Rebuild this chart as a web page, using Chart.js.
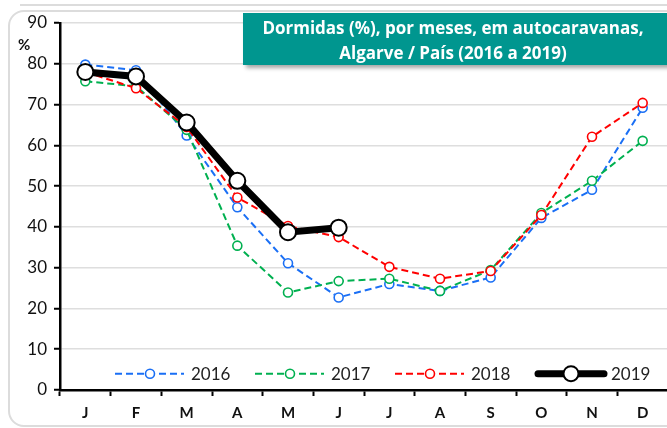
<!DOCTYPE html>
<html>
<head>
<meta charset="utf-8">
<script src="https://cdn.jsdelivr.net/npm/chart.js@4.4.1/dist/chart.umd.min.js"></script>
<style>
  html, body { margin: 0; padding: 0; background: #fff; overflow: hidden; }
  #wrap { position: relative; width: 667px; height: 428px; overflow: hidden; }
  #topline { position: absolute; left: 20px; top: 0; width: 700px; height: 4px; border-bottom: 2px solid #dcdcdc; }
  #frame { position: absolute; left: 8px; top: 10px; width: 700px; height: 413px;
           border: 2px solid #dcdcdc; border-radius: 16px; }
  #chart { position: absolute; left: 0; top: 0; }
  #title { position: absolute; left: 243px; top: 13px; width: 432px; height: 52px;
           background: #00968f; color: #fff; box-shadow: 3px 3px 4px rgba(0,0,0,0.35);
           font: bold 17px "Open Sans", Lato, sans-serif; text-align: center; line-height: 25px;
           padding-top: 2px; box-sizing: border-box; padding-right: 12px; white-space: nowrap; }
  #pct { position: absolute; left: 18px; top: 35px; font: bold 15px Lato, sans-serif; color: #111; }
</style>
</head>
<body>
<div id="wrap">
  <div id="topline"></div>
  <div id="frame"></div>
  <canvas id="chart" width="678" height="428"></canvas>
  <div id="title">Dormidas (%), por meses, em autocaravanas,<br>Algarve / País (2016 a 2019)</div>
  <div id="pct">%</div>
</div>
<script>
// months (PT initials)
const months = ['J', 'F', 'M', 'A', 'M', 'J', 'J', 'A', 'S', 'O', 'N', 'D'];
const yTicks = [0, 10, 20, 30, 40, 50, 60, 70, 80, 90];

// values
const y2016 = [79.8, 78.4, 62.4, 44.8, 31.1, 22.7, 26.0, 24.3, 27.6, 42.2, 49.1, 69.2];
const y2017 = [75.7, 74.5, 63.8, 35.4, 23.9, 26.7, 27.3, 24.3, 29.4, 43.4, 51.3, 61.1];
const y2018 = [78.0, 74.0, 64.5, 47.2, 40.2, 37.5, 30.2, 27.3, 29.2, 42.9, 62.1, 70.4];
const y2019 = [78.0, 76.9, 65.6, 51.3, 38.7, 39.8];

const BLUE = '#1a6ff5';
const GREEN = '#00b050';
const RED = '#ff0000';

function dashed(label, data, color, order) {
  return {
    label: label,
    data: data,
    borderColor: color,
    borderWidth: 2,
    borderDash: [7, 4],
    pointRadius: 4.5,
    pointBorderWidth: 1.6,
    pointBackgroundColor: '#fff',
    pointBorderColor: color,
    tension: 0,
    order: order
  };
}

const datasets = [
  dashed('2016', y2016, BLUE, 3),
  dashed('2017', y2017, GREEN, 2),
  dashed('2018', y2018, RED, 1),
  {
    label: '2019',
    data: y2019,
    borderColor: '#000',
    borderWidth: 7,
    pointRadius: 8,
    pointBorderWidth: 2,
    pointBackgroundColor: '#fff',
    pointBorderColor: '#000',
    tension: 0,
    order: 0
  }
];

// legend drawn inside the plot, near the bottom
const insideLegend = {
  id: 'insideLegend',
  afterDraw(chart) {
    const ctx = chart.ctx;
    const y = chart.scales.y.getPixelForValue(4);
    const x0 = 115, step = 140;
    ctx.save();
    chart.data.datasets.forEach((ds, i) => {
      const x = x0 + i * step;
      const bold = ds.label === '2019';
      ctx.beginPath();
      ctx.setLineDash(bold ? [] : [7, 4]);
      ctx.lineWidth = bold ? 7 : 2;
      ctx.lineCap = bold ? 'round' : 'butt';
      ctx.strokeStyle = ds.borderColor;
      ctx.moveTo(x + (bold ? 3 : 0), y);
      ctx.lineTo(x + 69, y);
      ctx.stroke();
      ctx.setLineDash([]);
      ctx.beginPath();
      ctx.arc(x + 35 + (bold ? 1 : 0), y, bold ? 7.5 : 4.5, 0, Math.PI * 2);
      ctx.fillStyle = '#fff';
      ctx.fill();
      ctx.lineWidth = bold ? 2 : 1.6;
      ctx.stroke();
      ctx.fillStyle = '#222';
      ctx.font = '17px Lato, sans-serif';
      ctx.textBaseline = 'middle';
      ctx.textAlign = 'left';
      ctx.fillText(ds.label, x + 76, y + 1);
    });
    ctx.restore();
  }
};

new Chart(document.getElementById('chart'), {
  type: 'line',
  data: { labels: months, datasets: datasets },
  options: {
    responsive: false,
    animation: false,
    layout: { padding: { top: 23, left: 0, right: 0, bottom: 0 } },
    plugins: { legend: { display: false }, tooltip: { enabled: false } },
    scales: {
      x: {
        offset: true,
        afterFit: s => { s.height = 38; },
        grid: { drawOnChartArea: false, drawTicks: true, tickLength: 6, tickColor: '#000', tickWidth: 2, offset: true },
        border: { color: '#000', width: 2.5 },
        ticks: { color: '#111', font: { family: 'Lato', size: 15, weight: 'bold' }, padding: 8, maxRotation: 0, autoSkip: false }
      },
      y: {
        min: 0,
        max: 90,
        afterFit: s => { s.width = 60; },
        afterBuildTicks: s => { s.ticks = yTicks.map(v => ({ value: v })); },
        grid: { color: '#dedede', lineWidth: 1.5, tickLength: 6, tickColor: '#000', tickWidth: 2 },
        border: { color: '#000', width: 2.5 },
        ticks: { color: '#111', font: { family: 'Lato', size: 17 }, padding: 7 }
      }
    }
  },
  plugins: [insideLegend]
});
</script>
</body>
</html>
